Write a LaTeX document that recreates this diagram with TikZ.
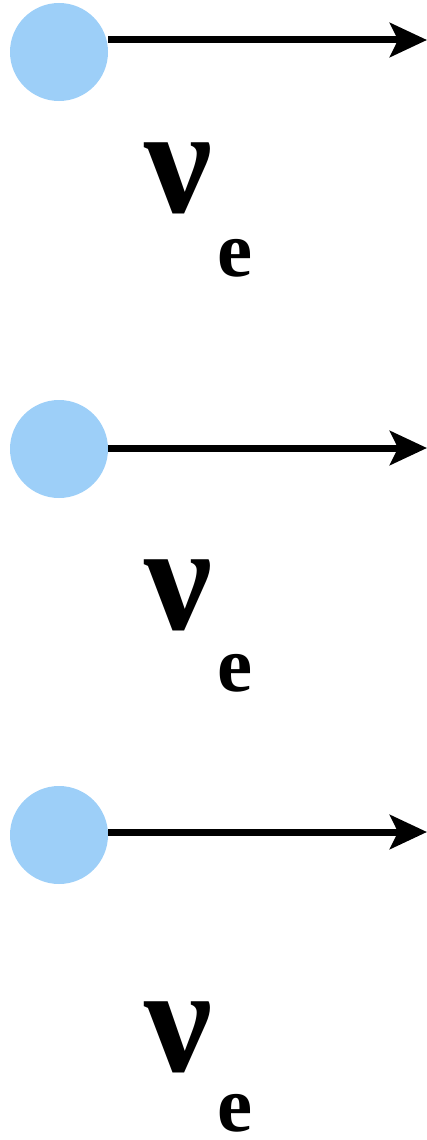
\documentclass[tikz,border=0pt]{standalone}
\usepackage{fontspec}
\setmainfont{Liberation Serif}
\usetikzlibrary{arrows.meta}
\definecolor{ballblue}{RGB}{157,207,248}
\tikzset{
  ball/.style={circle,fill=ballblue,minimum size=98pt,inner sep=0pt},
  move/.style={line width=7pt,-{Stealth[length=37pt,width=34pt,inset=8pt]}},
  nulab/.style={inner sep=0pt,anchor=base,font=\fontsize{152}{152}\selectfont\bfseries},
  sublab/.style={inner sep=0pt,anchor=base,font=\fontsize{79}{79}\selectfont\bfseries}
}
\begin{document}
\begin{tikzpicture}[x=1pt,y=-1pt]
    \useasboundingbox (0,0) rectangle (427,1140);
    % first
    \node[ball] (ball1) at (59,52) {};
    \coordinate (tip1) at (427,40);
    \draw[move] (ball1.east |- tip1) -- (tip1);
    \node[nulab] (nu1) at (178.5,212) {ν};
    \node[sublab] (e1) at (235.5,276) {e};
    % second
    \node[ball] (ball2) at (59,449) {};
    \coordinate (tip2) at (427,448);
    \draw[move] (ball2.east |- tip2) -- (tip2);
    \node[nulab] (nu2) at (178.5,629) {ν};
    \node[sublab] (e2) at (235.5,691) {e};
    % third
    \node[ball] (ball3) at (59,835) {};
    \coordinate (tip3) at (427,832);
    \draw[move] (ball3.east |- tip3) -- (tip3);
    \node[nulab] (nu3) at (178.5,1071) {ν};
    \node[sublab] (e3) at (235.5,1131) {e};
  \end{tikzpicture}
\end{document}
